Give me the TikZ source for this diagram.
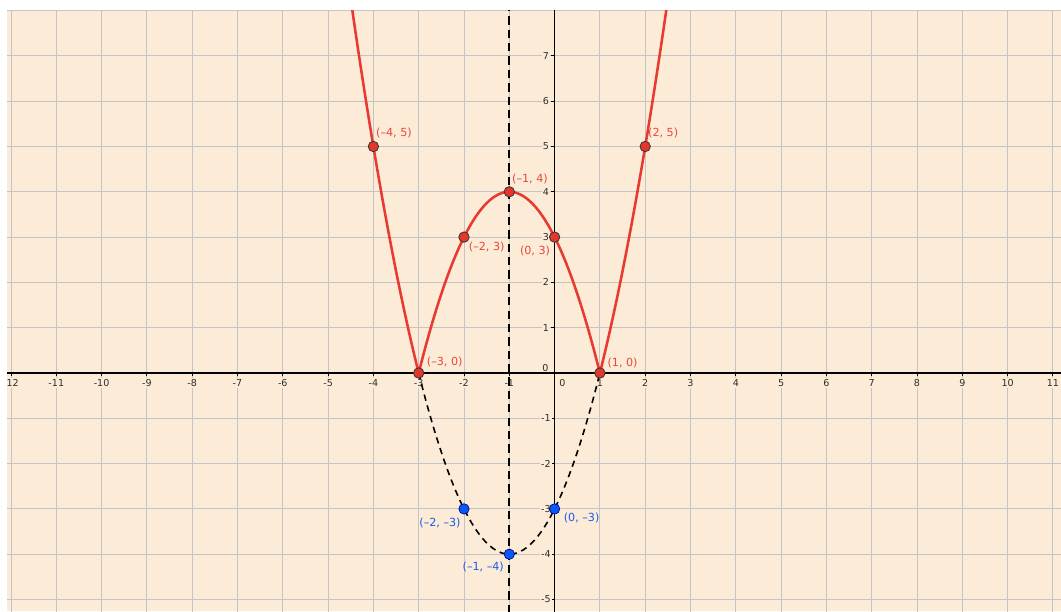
\documentclass[tikz,border=0pt]{standalone}
\usepackage{fontspec}
\setmainfont{DejaVu Sans}
\definecolor{bg}{RGB}{251,235,215}
\definecolor{gridc}{RGB}{196,196,196}
\definecolor{curvered}{RGB}{232,58,48}
\definecolor{labred}{RGB}{232,72,62}
\definecolor{ptred}{RGB}{226,56,44}
\definecolor{ptblue}{RGB}{8,88,250}
\definecolor{labblue}{RGB}{30,90,232}
\definecolor{ticktxt}{RGB}{45,45,45}
\tikzset{
  gridline/.style={draw=gridc, line width=0.6pt},
  axisline/.style={draw=black, line width=0.8pt},
  tickmark/.style={draw=black, line width=0.6pt},
  ticklab/.style={font=\fontsize{6}{7}\selectfont, text=ticktxt, fill=bg, inner sep=0.7pt},
  redcurve/.style={draw=curvered, line width=1.6pt, line join=round},
  dashcurve/.style={draw=black, line width=1pt, dash pattern=on 4pt off 3pt},
  vdash/.style={draw=black, line width=1.3pt, dash pattern=on 5.2pt off 3.2pt},
  redpt/.style={circle, fill=ptred, draw=black!80, line width=0.5pt, minimum size=0.23cm, inner sep=0pt},
  bluept/.style={circle, fill=ptblue, draw=blue!50!black, line width=0.4pt, minimum size=0.23cm, inner sep=0pt},
  redlab/.style={font=\fontsize{7}{8}\selectfont, text=labred, inner sep=0pt},
  bluelab/.style={font=\fontsize{7}{8}\selectfont, text=labblue, inner sep=0pt}
}
\begin{document}
\begin{tikzpicture}[x=1cm,y=1cm]
\useasboundingbox (-12.243,-5.254) rectangle (11.179,8.234);
\fill[white] (-12.243,-5.254) rectangle (11.179,8.234);
\begin{scope}
\clip (-12.087,-5.254) rectangle (11.179,8.007);
\fill[bg] (-12.087,-5.254) rectangle (11.179,8.007);
\foreach \x in {-12,...,11} \draw[gridline] (\x,-5.3) -- (\x,8.007);
\foreach \y in {-5,...,8} \draw[gridline] (-12.1,\y) -- (11.2,\y);
\draw[axisline] (-12.1,0) -- (11.2,0);
\draw[axisline] (0,-5.3) -- (0,8.007);
\foreach \x in {-12,...,11}{%
  \ifnum\x=0\else
    \draw[tickmark] (\x,0) -- (\x,-0.07);
    \node[ticklab] (tx\x) at (\x,-0.22) {\x};
  \fi}
\foreach \y in {-5,...,7}{%
  \ifnum\y=0\else
    \draw[tickmark] (0,\y) -- (-0.07,\y);
    \node[ticklab] (ty\y) at (-0.19,\y) {\y};
  \fi}
\node[ticklab] (tx0) at (0.17,-0.22) {0};
\node[ticklab] (ty0) at (-0.2,0.12) {0};
\draw[vdash] (-1,-5.3) -- (-1,8.1);
\draw[dashcurve] plot[domain=-3:1, samples=60, smooth] (\x,{\x*\x+2*\x-3});
\draw[redcurve] plot[domain=-4.5:-3, samples=30, smooth] (\x,{\x*\x+2*\x-3})
  -- plot[domain=-3:1, samples=60, smooth] (\x,{-(\x*\x+2*\x-3)})
  -- plot[domain=1:2.5, samples=30, smooth] (\x,{\x*\x+2*\x-3});
\end{scope}
\node[redpt] (pA) at (-4,5) {};
\node[redpt] (pB) at (-2,3) {};
\node[redpt] (pC) at (-1,4) {};
\node[redpt] (pD) at (0,3) {};
\node[redpt] (pE) at (2,5) {};
\node[redpt] (pF) at (-3,0) {};
\node[redpt] (pG) at (1,0) {};
\node[bluept] (qA) at (-2,-3) {};
\node[bluept] (qB) at (-1,-4) {};
\node[bluept] (qC) at (0,-3) {};
\node[redlab] (lA) at (-3.545,5.287) {(–4, 5)};
\node[redlab] (lB) at (-1.499,2.788) {(–2, 3)};
\node[redlab] (lC) at (-0.543,4.283) {(–1, 4)};
\node[redlab] (lD) at (-0.433,2.700) {(0, 3)};
\node[redlab] (lE) at (2.397,5.287) {(2, 5)};
\node[redlab] (lF) at (-2.426,0.236) {(–3, 0)};
\node[redlab] (lG) at (1.501,0.214) {(1, 0)};
\node[bluelab] (mA) at (-2.530,-3.316) {(–2, –3)};
\node[bluelab] (mB) at (-1.574,-4.287) {(–1, –4)};
\node[bluelab] (mC) at (0.596,-3.205) {(0, –3)};
\end{tikzpicture}
\end{document}
